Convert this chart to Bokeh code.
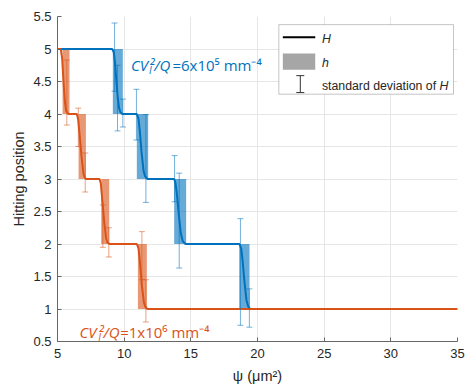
from bokeh.plotting import figure
from bokeh.models import ColumnDataSource, Whisker, TeeHead, BoxAnnotation, Label, FixedTicker
from bokeh.embed import file_html
from bokeh.resources import INLINE

# ---------------- data ----------------
BLUE = "#0072BD"
ORANGE = "#D95319"

# H curves
blue_x = [5, 9.1, 9.22, 9.32, 9.42, 9.52, 9.62, 9.72, 9.85, 10.95, 11.07, 11.17, 11.3, 11.45, 11.57, 11.75,
          13.75, 13.85, 13.95, 14.1, 14.25, 14.4, 14.6, 18.65, 18.78, 18.88, 19.02, 19.17, 19.3, 19.45, 35]
blue_y = [5, 5, 4.95, 4.78, 4.5, 4.25, 4.09, 4.03, 4.0, 4.0, 3.93, 3.75, 3.42, 3.13, 3.04, 3.0,
          3.0, 2.94, 2.78, 2.45, 2.16, 2.04, 2.0, 2.0, 1.93, 1.75, 1.42, 1.14, 1.04, 1.0, 1.0]

orange_x = [5, 5.25, 5.35, 5.45, 5.55, 5.65, 5.8, 6.45, 6.55, 6.65, 6.8, 6.95, 7.05, 7.15,
            8.15, 8.25, 8.35, 8.5, 8.65, 8.75, 8.9, 10.95, 11.08, 11.18, 11.33, 11.48, 11.6, 11.75, 35]
orange_y = [5, 5, 4.85, 4.5, 4.2, 4.05, 4.0, 4.0, 3.92, 3.7, 3.35, 3.08, 3.02, 3.0,
            3.0, 2.93, 2.7, 2.35, 2.08, 2.02, 2.0, 2.0, 1.93, 1.72, 1.36, 1.1, 1.03, 1.0, 1.0]

# h ranges (shaded boxes)
blue_h_left = [9.15, 10.95, 13.75, 18.63]
blue_h_right = [9.9, 11.8, 14.65, 19.4]
blue_h_top = [5, 4, 3, 2]
blue_h_bottom = [4, 3, 2, 1]

orange_h_left = [5.38, 6.58, 8.28, 11.03]
orange_h_right = [5.9, 7.13, 8.88, 11.7]
orange_h_top = [5, 4, 3, 2]
orange_h_bottom = [4, 3, 2, 1]

# standard deviation of H (error bars)
blue_err_x = [9.28, 9.5, 9.9, 10.92, 11.63, 13.78, 14.13, 18.72, 19.39]
blue_err_lo = [4.35, 3.74, 3.80, 3.6, 2.64, 2.65, 1.63, 0.75, 0.72]
blue_err_hi = [5.40, 4.75, 4.23, 4.38, 3.99, 3.36, 3.09, 2.39, 1.31]

orange_err_x = [5.7, 6.56, 7.08, 8.4, 8.85, 11.33, 11.63]
orange_err_lo = [3.83, 3.5, 2.80, 1.95, 1.80, 1.45, 0.80]
orange_err_hi = [4.83, 4.09, 3.4, 2.6, 2.25, 2.19, 1.45]

x_ticks = [5, 10, 15, 20, 25, 30, 35]
x_tick_labels = ["5", "10", "15", "20", "25", "30", "35"]
y_ticks = [0.5, 1, 1.5, 2, 2.5, 3, 3.5, 4, 4.5, 5, 5.5]
y_tick_labels = ["0.5", "1", "1.5", "2", "2.5", "3", "3.5", "4", "4.5", "5", "5.5"]

# ---------------- figure ----------------
p = figure(width=471, height=392, x_range=(5, 35), y_range=(0.5, 5.5),
           output_backend="svg", toolbar_location=None,
           min_border_left=57, min_border_right=14, min_border_top=16, min_border_bottom=51)
p.outline_line_color = None
p.background_fill_color = "white"

for ax in (p.xaxis[0], p.yaxis[0]):
    ax.axis_line_color = "#666666"
    ax.major_tick_line_color = "#666666"
    ax.major_tick_in = 4
    ax.major_tick_out = 0
    ax.minor_tick_line_color = None
    ax.major_label_text_font = "Liberation Sans"
    ax.major_label_text_font_size = "13px"
    ax.major_label_text_color = "#262626"
    ax.axis_label_text_font = "Liberation Sans"
    ax.axis_label_text_font_style = "normal"
    ax.axis_label_text_color = "#262626"
    ax.axis_label_text_font_size = "14.5px"

p.xaxis.ticker = FixedTicker(ticks=x_ticks)
p.yaxis.ticker = FixedTicker(ticks=y_ticks)
p.xaxis.major_label_overrides = {t: l for t, l in zip(x_ticks, x_tick_labels)}
p.yaxis.major_label_overrides = {t: l for t, l in zip(y_ticks, y_tick_labels)}
p.xaxis.axis_label = "ψ (μm²)"
p.yaxis.axis_label = "Hitting position"
p.xaxis.major_label_standoff = 7
p.yaxis.major_label_standoff = 6
p.xaxis.axis_label_standoff = 7
p.yaxis.axis_label_standoff = 3

p.xgrid.grid_line_color = "#e6e6e6"
p.ygrid.grid_line_color = "#e6e6e6"

# shaded h boxes
p.quad(left=blue_h_left, right=blue_h_right, top=blue_h_top, bottom=blue_h_bottom,
       fill_color=BLUE, fill_alpha=0.6, line_color=None)
p.quad(left=orange_h_left, right=orange_h_right, top=orange_h_top, bottom=orange_h_bottom,
       fill_color=ORANGE, fill_alpha=0.6, line_color=None)

# error bars
for ex, elo, ehi, col in ((blue_err_x, blue_err_lo, blue_err_hi, BLUE),
                          (orange_err_x, orange_err_lo, orange_err_hi, ORANGE)):
    src = ColumnDataSource(dict(x=ex, lo=elo, hi=ehi))
    w = Whisker(source=src, base="x", lower="lo", upper="hi", dimension="height",
                line_color=col, line_alpha=0.55, line_width=1,
                upper_head=TeeHead(size=6, line_color=col, line_alpha=0.55, line_width=1),
                lower_head=TeeHead(size=6, line_color=col, line_alpha=0.55, line_width=1),
                level="glyph")
    p.add_layout(w)

# H curves
p.line(blue_x, blue_y, line_color=BLUE, line_width=2)
p.line(orange_x, orange_y, line_color=ORANGE, line_width=2)

# annotations (CV texts)
def cv_text(x0, x_sub, x_eq, y, col, rest):
    p.add_layout(Label(x=x0, y=y, text="CV", text_font="Open Sans", text_font_size="15px",
                       text_font_style="italic", text_color=col, text_baseline="alphabetic"))
    p.add_layout(Label(x=x_sub, y=y - 0.07, text="I", text_font="Open Sans", text_font_size="10px",
                       text_font_style="italic", text_color=col, text_baseline="alphabetic"))
    p.add_layout(Label(x=x_sub, y=y, text="²/Q", text_font="Open Sans", text_font_size="15px",
                       text_font_style="italic", text_color=col, text_baseline="alphabetic"))
    p.add_layout(Label(x=x_eq, y=y, text=rest, text_font="Open Sans", text_font_size="15px",
                       text_color=col, text_baseline="alphabetic"))

cv_text(10.51, 11.87, 13.62, 4.75, BLUE, "=6x10⁵ mm⁻⁴")
cv_text(6.65, 8.05, 9.7, 0.642, ORANGE, "=1x10⁶ mm⁻⁴")

# legend
p.add_layout(BoxAnnotation(left=21.6, right=34.7, bottom=4.305, top=5.375,
                           fill_color="white", fill_alpha=1, line_color="#404040", line_width=1,
                           level="annotation"))
leg_line = ColumnDataSource(dict(y=[5.179], lo=[21.9], hi=[24.33]))
p.add_layout(Whisker(source=leg_line, base="y", lower="lo", upper="hi", dimension="width",
                     line_color="black", line_width=2, upper_head=None, lower_head=None,
                     level="overlay"))
p.add_layout(BoxAnnotation(left=21.9, right=24.33, bottom=4.68, top=4.93,
                           fill_color="#a6a6a6", fill_alpha=1, line_color=None, level="overlay"))
leg_err = ColumnDataSource(dict(x=[23.21], lo=[4.33], hi=[4.59]))
p.add_layout(Whisker(source=leg_err, base="x", lower="lo", upper="hi", dimension="height",
                     line_color="#333333", line_width=1,
                     upper_head=TeeHead(size=8, line_color="#333333", line_width=1),
                     lower_head=TeeHead(size=8, line_color="#333333", line_width=1),
                     level="overlay"))
for txt, ly, style in (("H", 5.15, "italic"), ("h", 4.79, "italic"),
                       ("standard deviation of", 4.43, "normal")):
    p.add_layout(Label(x=24.83, y=ly, text=txt, text_font="Liberation Sans", text_font_size="12.3px",
                       text_font_style=style, text_color="#262626", text_baseline="middle",
                       level="overlay"))
p.add_layout(Label(x=33.65, y=4.43, text="H", text_font="Liberation Sans", text_font_size="12.3px",
                   text_font_style="italic", text_color="#262626", text_baseline="middle",
                   level="overlay"))

open("out.html", "w").write(file_html(p, INLINE))
